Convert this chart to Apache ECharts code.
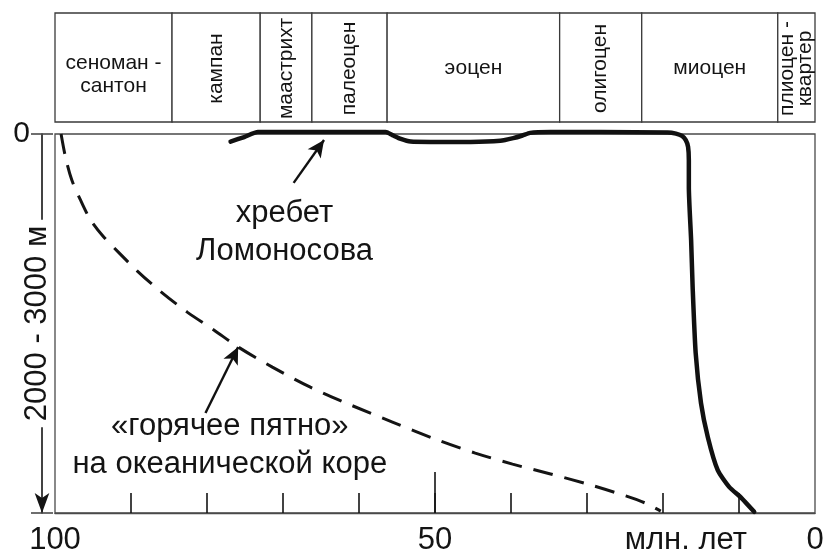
<!DOCTYPE html>
<html><head><meta charset="utf-8">
<script src="https://cdn.jsdelivr.net/npm/echarts@6/dist/echarts.min.js"></script>
<style>html,body{margin:0;padding:0;background:#fff}#c{width:825px;height:558px}</style>
</head><body><div id="c"></div>
<script>
// ---- data ----
const periodNames = ['сеноман -\nсантон', 'кампан', 'маастрихт', 'палеоцен', 'эоцен', 'олигоцен', 'миоцен', 'плиоцен -\nквартер'];
const periodStart = [100, 84.6, 73.0, 66.2, 56.3, 33.6, 22.8, 4.9];
const periodEnd   = [84.6, 73.0, 66.2, 56.3, 33.6, 22.8, 4.9, 0];
const periodRotated = [false, true, true, true, false, true, false, true];

// Lomonosov Ridge (age Ma, relative depth 0..100)
const ridgeAge   = [76.9, 75.1, 73.3, 65.0, 56.5, 55.6, 54.5, 53.2, 50.6, 45.3, 41.4, 39.7, 38.5, 37.5, 34.8, 28.2, 19.4, 18.3, 17.5, 17.0, 16.7, 16.6, 16.6, 16.3, 16.1, 15.7, 15.0, 14.1, 12.8, 11.3, 9.7, 8.0];
const ridgeDepth = [2.0, 0.8, -0.5, -0.5, -0.5, 0.3, 1.3, 2.0, 2.1, 2.1, 1.8, 1.1, 0.4, -0.3, -0.5, -0.5, -0.4, -0.1, 0.5, 1.6, 3.4, 6.9, 14.0, 28.0, 40.4, 57.8, 71.0, 80.0, 88.7, 93.1, 96.0, 99.7];

// hot spot on oceanic crust
const hotAge   = [99.2, 98.6, 97.8, 96.7, 95.4, 93.7, 91.7, 89.2, 86.2, 82.6, 79.1, 75.9, 71.4, 66.4, 61.1, 55.6, 49.7, 44.7, 39.8, 34.8, 29.5, 24.9, 22.3, 20.3];
const hotDepth = [0, 6.3, 12.1, 17.2, 22.4, 26.9, 31.1, 36.1, 41.4, 47.0, 51.7, 56.2, 61.5, 66.8, 71.5, 76.0, 80.7, 84.2, 87.1, 89.7, 92.6, 95.5, 97.4, 99.5];

const xTickValues = [90, 80, 70, 60, 50, 40, 30, 20, 10];
const xLabelValues = [100, 50, 17, 0];
const xLabelTexts = ['100', '50', 'млн. лет', '0'];
const yLabelValues = [0];
const yLabelTexts = ['0'];
const yAxisTitle = '2000 - 3000 м';

const noteTexts = ['хребет\nЛомоносова', '«горячее пятно»\nна океанической коре'];
const noteAge = [69.8, 77.0];
const noteDepth = [25.9, 82.2];
const arrowFromAge = [68.6, 80.2];
const arrowFromDepth = [12.9, 73.6];
const arrowToAge = [64.6, 75.9];
const arrowToDepth = [1.6, 56.2];

// ---- chart ----
const FONT = '"Liberation Sans", Arial, sans-serif';
const INK = '#141414';
const chart = echarts.init(document.getElementById('c'), null, {renderer: 'canvas'});

const zip = (a, b) => a.map((v, i) => [v, b[i]]);

const periodData = periodNames.map((n, i) => [periodStart[i], periodEnd[i], i]);

const option = {
  animation: false,
  backgroundColor: '#fff',
  grid: [
    {left: 55, right: 10, top: 134, bottom: 45, show: true, borderColor: '#4a4a4a', borderWidth: 1.3,
     backgroundColor: 'transparent', containLabel: false, outerBoundsMode: 'none'},
    {left: 55, right: 10, top: 13, height: 109, show: false, containLabel: false, outerBoundsMode: 'none'}
  ],
  xAxis: [
    {gridIndex: 0, type: 'value', min: 0, max: 100, inverse: true, interval: 10, position: 'bottom',
     splitLine: {show: false},
     axisLine: {show: true, onZero: false, lineStyle: {color: '#4a4a4a', width: 1.3}},
     axisTick: {show: true, inside: true, length: 20, customValues: xTickValues, lineStyle: {color: INK, width: 1.6}},
     axisLabel: {show: true, customValues: xLabelValues, margin: 12, color: INK, fontFamily: FONT, fontSize: 31,
       formatter: v => xLabelTexts[xLabelValues.indexOf(v)]}
    },
    {gridIndex: 1, type: 'value', min: 0, max: 100, inverse: true, show: false, axisLine: {onZero: false}}
  ],
  yAxis: [
    {gridIndex: 0, type: 'value', min: 0, max: 100, inverse: true, position: 'left', offset: 13,
     splitLine: {show: false},
     axisLine: {show: true, onZero: false, symbol: ['arrow', 'none'], symbolSize: [11, 20], lineStyle: {color: INK, width: 1.6}},
     axisTick: {show: true, inside: false, length: 11, customValues: [0, 100], lineStyle: {color: '#4a4a4a', width: 1.6}},
     axisLabel: {show: true, customValues: yLabelValues, margin: 12, color: INK, fontFamily: FONT, fontSize: 30,
       padding: [14, 0, 0, 0], formatter: v => yLabelTexts[yLabelValues.indexOf(v)]}
    },
    {gridIndex: 0, type: 'value', min: 0, max: 100, inverse: true, position: 'left', offset: 13,
     splitLine: {show: false}, axisLine: {show: false, onZero: false}, axisLabel: {show: false},
     axisTick: {show: true, inside: true, length: 11, customValues: [0, 100], lineStyle: {color: '#4a4a4a', width: 1.6}},
     name: yAxisTitle, nameLocation: 'middle', nameRotate: 90, nameGap: 5, nameMoveOverlap: false,
     nameTextStyle: {color: INK, fontFamily: FONT, fontSize: 31, verticalAlign: 'middle', align: 'center',
       lineHeight: 30, backgroundColor: '#fff', padding: [0, 6]}
    },
    {gridIndex: 1, type: 'value', min: 0, max: 1, show: false, axisLine: {onZero: false}}
  ],
  series: [
    {
      type: 'custom', xAxisIndex: 1, yAxisIndex: 2, data: periodData, silent: true,
      renderItem: (params, api) => {
        const i = params.dataIndex;
        const p0 = api.coord([api.value(0), 1]);
        const p1 = api.coord([api.value(1), 0]);
        const x = Math.min(p0[0], p1[0]), w = Math.abs(p1[0] - p0[0]);
        const y = Math.min(p0[1], p1[1]), h = Math.abs(p1[1] - p0[1]);
        const rot = periodRotated[i];
        const text = periodNames[i];
        const twoLines = text.indexOf('\n') >= 0;
        return {
          type: 'group',
          children: [
            {type: 'rect', shape: {x: x, y: y, width: w, height: h},
             style: {fill: '#fff', stroke: '#3a3a3a', lineWidth: 1.3}},
            {type: 'text', x: x + w / 2, y: y + h / 2 + (!rot && twoLines ? 7 : 1), rotation: rot ? Math.PI / 2 : 0,
             style: {text: text, fill: INK, font: '21px ' + FONT, align: 'center', verticalAlign: 'middle',
                     lineHeight: rot ? 18 : 23}}
          ]
        };
      }
    },
    {
      name: 'hot', type: 'line', xAxisIndex: 0, yAxisIndex: 0, data: zip(hotAge, hotDepth),
      showSymbol: false, symbol: 'none', smooth: 0.3, clip: false,
      lineStyle: {color: INK, width: 3, type: [20, 12]}
    },
    {
      name: 'ridge', type: 'line', xAxisIndex: 0, yAxisIndex: 0, data: zip(ridgeAge, ridgeDepth),
      showSymbol: false, symbol: 'none', smooth: 0.2, clip: false,
      lineStyle: {color: '#111', width: 4.5, cap: 'round', join: 'round'},
      markLine: {
        silent: true, animation: false, symbol: ['none', 'arrow'], symbolSize: 15,
        label: {show: false},
        lineStyle: {color: '#111', width: 2.4, type: 'solid'},
        data: arrowFromAge.map((a, i) => [
          {coord: [a, arrowFromDepth[i]], symbol: 'none'},
          {coord: [arrowToAge[i], arrowToDepth[i]], symbol: 'arrow', symbolSize: [12, 17]}
        ]).concat([[
          {coord: [50, 100], symbol: 'none'},
          {coord: [50, 89.2], symbol: 'none', lineStyle: {width: 1.6, color: INK}}
        ]])
      }
    }
  ]
};
chart.setOption(option);

// annotation texts positioned through the chart's own scales
const notePx = noteTexts.map((t, i) => chart.convertToPixel({gridIndex: 0}, [noteAge[i], noteDepth[i]]));
chart.setOption({
  graphic: noteTexts.map((t, i) => ({
    type: 'text', x: notePx[i][0], y: notePx[i][1], silent: true, z: 10,
    style: {text: t, fill: INK, font: '31px ' + FONT, align: 'center', verticalAlign: 'middle',
            textAlign: 'center', textVerticalAlign: 'middle', lineHeight: 38}
  }))
});
</script>
</body></html>
